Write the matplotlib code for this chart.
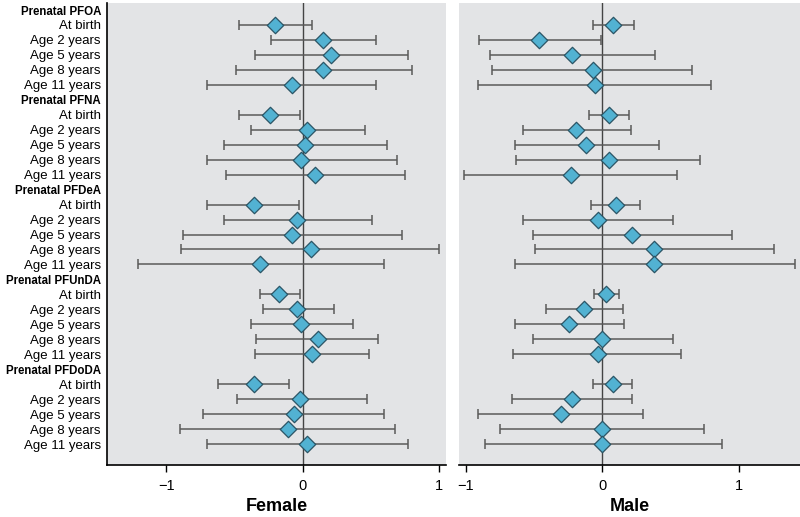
import matplotlib

matplotlib.use('Agg')

import matplotlib.pyplot as plt


EXPOSURES = ['PFOA', 'PFNA', 'PFDeA', 'PFUnDA', 'PFDoDA']
AGES = ['At birth', 'Age 2 years', 'Age 5 years', 'Age 8 years', 'Age 11 years']

# estimates with lower/upper CI, one row per age, groups in EXPOSURES order
female_est = [
    -0.20, 0.15, 0.21, 0.15, -0.08,
    -0.24, 0.03, 0.02, -0.01, 0.09,
    -0.36, -0.04, -0.08, 0.06, -0.31,
    -0.17, -0.04, -0.01, 0.11, 0.07,
    -0.36, -0.02, -0.06, -0.11, 0.03,
]
female_lo = [
    -0.47, -0.23, -0.35, -0.49, -0.70,
    -0.47, -0.38, -0.58, -0.70, -0.56,
    -0.70, -0.58, -0.88, -0.89, -1.21,
    -0.31, -0.29, -0.38, -0.34, -0.35,
    -0.62, -0.48, -0.73, -0.90, -0.70,
]
female_hi = [
    0.07, 0.54, 0.77, 0.80, 0.54,
    -0.02, 0.46, 0.62, 0.69, 0.75,
    -0.03, 0.51, 0.73, 1.00, 0.60,
    -0.02, 0.23, 0.37, 0.55, 0.49,
    -0.10, 0.47, 0.60, 0.68, 0.77,
]

male_est = [
    0.08, -0.46, -0.22, -0.07, -0.05,
    0.05, -0.19, -0.12, 0.05, -0.23,
    0.10, -0.03, 0.22, 0.38, 0.38,
    0.03, -0.13, -0.24, 0.00, -0.03,
    0.08, -0.22, -0.30, 0.00, 0.00,
]
male_lo = [
    -0.07, -0.90, -0.82, -0.81, -0.91,
    -0.10, -0.58, -0.64, -0.63, -1.01,
    -0.08, -0.58, -0.51, -0.49, -0.64,
    -0.06, -0.41, -0.64, -0.51, -0.65,
    -0.07, -0.66, -0.91, -0.75, -0.86,
]
male_hi = [
    0.23, -0.01, 0.39, 0.66, 0.80,
    0.20, 0.21, 0.42, 0.72, 0.55,
    0.28, 0.52, 0.95, 1.26, 1.41,
    0.12, 0.15, 0.16, 0.52, 0.58,
    0.22, 0.22, 0.30, 0.75, 0.88,
]

BG = '#e3e4e6'
MARKER = '#52b2d2'
BAR = '#5a5a5a'

plt.rcParams['font.family'] = ['Liberation Sans', 'DejaVu Sans']


def row_layout():
    labels, bold, data_rows = [], [], []
    row = 0
    for exp in EXPOSURES:
        labels.append(f'Prenatal {exp}')
        bold.append(True)
        row += 1
        for age in AGES:
            labels.append(age)
            bold.append(False)
            data_rows.append(row)
            row += 1
    return labels, bold, data_rows


def draw_panel(ax, est, lo, hi, rows, xlim, title):
    ax.set_facecolor(BG)
    ax.axvline(0, color='#444444', linewidth=1, zorder=1)
    xerr = [[e - l for e, l in zip(est, lo)], [h - e for e, h in zip(est, hi)]]
    ax.errorbar(
        est, rows, xerr=xerr, fmt='none', ecolor=BAR,
        elinewidth=1.1, capsize=3.5, capthick=1.1, zorder=2,
    )
    ax.scatter(
        est, rows, marker='D', s=70, color=MARKER,
        edgecolor='#2a5566', linewidth=0.9, zorder=3,
    )
    ax.set_xlim(*xlim)
    ax.set_ylim(30.4, -0.47)
    ax.set_xticks([-1, 0, 1])
    ax.set_xticklabels(['\u22121', '0', '1'])
    ax.tick_params(axis='x', length=5, width=1, labelsize=10.5, pad=5)
    ax.set_xlabel(title, fontsize=13, fontweight='bold', labelpad=4)
    for side in ['top', 'right']:
        ax.spines[side].set_visible(False)
    ax.spines['bottom'].set_linewidth(1.2)


def main():
    labels, bold, rows = row_layout()

    fig = plt.figure(figsize=(8, 5.17), dpi=100)
    ax_f = fig.add_axes([0.134, 0.1006, 0.424, 0.8936])
    ax_m = fig.add_axes([0.574, 0.1006, 0.426, 0.8936])

    draw_panel(ax_f, female_est, female_lo, female_hi, rows, (-1.433, 1.054), 'Female')
    draw_panel(ax_m, male_est, male_lo, male_hi, rows, (-1.048, 1.45), 'Male')

    ax_f.set_yticks(range(len(labels)))
    ax_f.set_yticklabels(labels, fontsize=9.5)
    for tick, is_bold in zip(ax_f.get_yticklabels(), bold):
        if is_bold:
            tick.set_fontweight('bold')
            tick.set_fontsize(8.3)
    ax_f.tick_params(axis='y', length=0, pad=4.5)
    ax_f.spines['left'].set_linewidth(1.2)

    ax_m.set_yticks([])
    ax_m.spines['left'].set_visible(False)

    fig.savefig('out.png', dpi=100)
    plt.close(fig)


if __name__ == '__main__':
    main()
